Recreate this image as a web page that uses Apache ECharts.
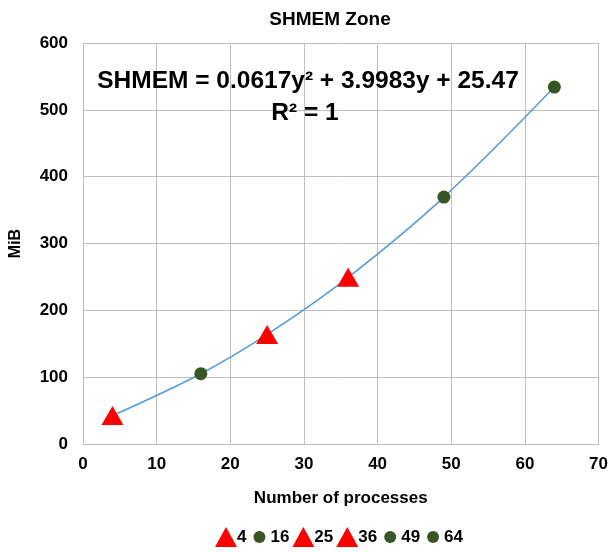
<!DOCTYPE html>
<html><head><meta charset="utf-8">
<script src="https://cdn.jsdelivr.net/npm/echarts@6/dist/echarts.min.js"></script>
<style>html,body{margin:0;padding:0;background:#fff}#c{width:611px;height:552px}</style>
</head><body><div id="c"></div>
<script>
const processes = [4, 16, 25, 36, 49, 64];
const mib = [42.5, 105.2, 164.0, 249.4, 369.5, 534.1];
const pointKinds = ['tri', 'dot', 'tri', 'tri', 'dot', 'dot'];
const xTicks = { min: 0, max: 70, interval: 10 };
const yTicks = { min: 0, max: 600, interval: 100 };

const RED = '#FF0000', GREEN = '#375623', LINE = '#5B9BD5';
const FONT = 'Liberation Sans, Arial, sans-serif';
const circleIcon = 'path://M0,0 M20,20 M4,10 A6,6 0 1 1 16,10 A6,6 0 1 1 4,10 Z';

const series = [{
  type: 'line', name: 'trend', data: processes.map((p, i) => [p, mib[i]]),
  smooth: 0.35, showSymbol: false, symbol: 'none', silent: true,
  lineStyle: { color: LINE, width: 1.6 }, z: 1
}];
processes.forEach((p, i) => {
  const tri = pointKinds[i] === 'tri';
  series.push({
    type: 'scatter', name: String(p), data: [[p, mib[i]]],
    symbol: tri ? 'triangle' : 'circle', symbolSize: tri ? [22, 19] : 13,
    itemStyle: { color: tri ? RED : GREEN, opacity: 1 }, z: 3
  });
});

const chart = echarts.init(document.getElementById('c'));
chart.setOption({
  animation: false,
  textStyle: { fontFamily: FONT },
  title: [
    { text: 'SHMEM Zone', left: 325, top: 5, textAlign: 'center',
      textStyle: { fontSize: 19, fontWeight: 'bold', color: '#000', fontFamily: FONT } },
    { text: 'SHMEM = 0.0617y² + 3.9983y + 25.47', left: 303, top: 64, textAlign: 'center',
      textStyle: { fontSize: 24.5, fontWeight: 'bold', color: '#000', fontFamily: FONT } },
    { text: 'R² = 1', left: 300, top: 96, textAlign: 'center',
      textStyle: { fontSize: 24.5, fontWeight: 'bold', color: '#000', fontFamily: FONT } }
  ],
  grid: { left: 82, right: 10, top: 43, bottom: 108, containLabel: false },
  xAxis: {
    type: 'value', min: xTicks.min, max: xTicks.max, interval: xTicks.interval,
    name: 'Number of processes', nameLocation: 'middle', nameGap: 46,
    nameTextStyle: { fontSize: 17, fontWeight: 'bold', color: '#000', fontFamily: FONT },
    axisLine: { show: true, lineStyle: { color: '#BFBFBF', width: 1 } },
    axisTick: { show: false },
    axisLabel: { fontSize: 17, fontWeight: 'bold', color: '#000', margin: 12, fontFamily: FONT },
    splitLine: { show: true, lineStyle: { color: '#BFBFBF', width: 1 } }
  },
  yAxis: {
    type: 'value', min: yTicks.min, max: yTicks.max, interval: yTicks.interval,
    name: 'MiB', nameLocation: 'middle', nameGap: 59, nameRotate: 90,
    nameTextStyle: { fontSize: 16, fontWeight: 'bold', color: '#000', fontFamily: FONT },
    axisLine: { show: true, lineStyle: { color: '#BFBFBF', width: 1 } },
    axisTick: { show: false },
    axisLabel: { fontSize: 17, fontWeight: 'bold', color: '#000', margin: 15, fontFamily: FONT },
    splitLine: { show: true, lineStyle: { color: '#BFBFBF', width: 1 } }
  },
  legend: {
    bottom: 0, left: 210,
    itemWidth: 22, itemHeight: 20, itemGap: 3,
    textStyle: { fontSize: 17, fontWeight: 'bold', color: '#000', fontFamily: FONT, padding: [0, 0, 0, -5] },
    data: processes.map((p, i) => ({
      name: String(p),
      icon: pointKinds[i] === 'tri' ? 'triangle' : circleIcon,
      itemStyle: { color: pointKinds[i] === 'tri' ? RED : GREEN }
    }))
  },
  series: series
});
</script></body></html>
